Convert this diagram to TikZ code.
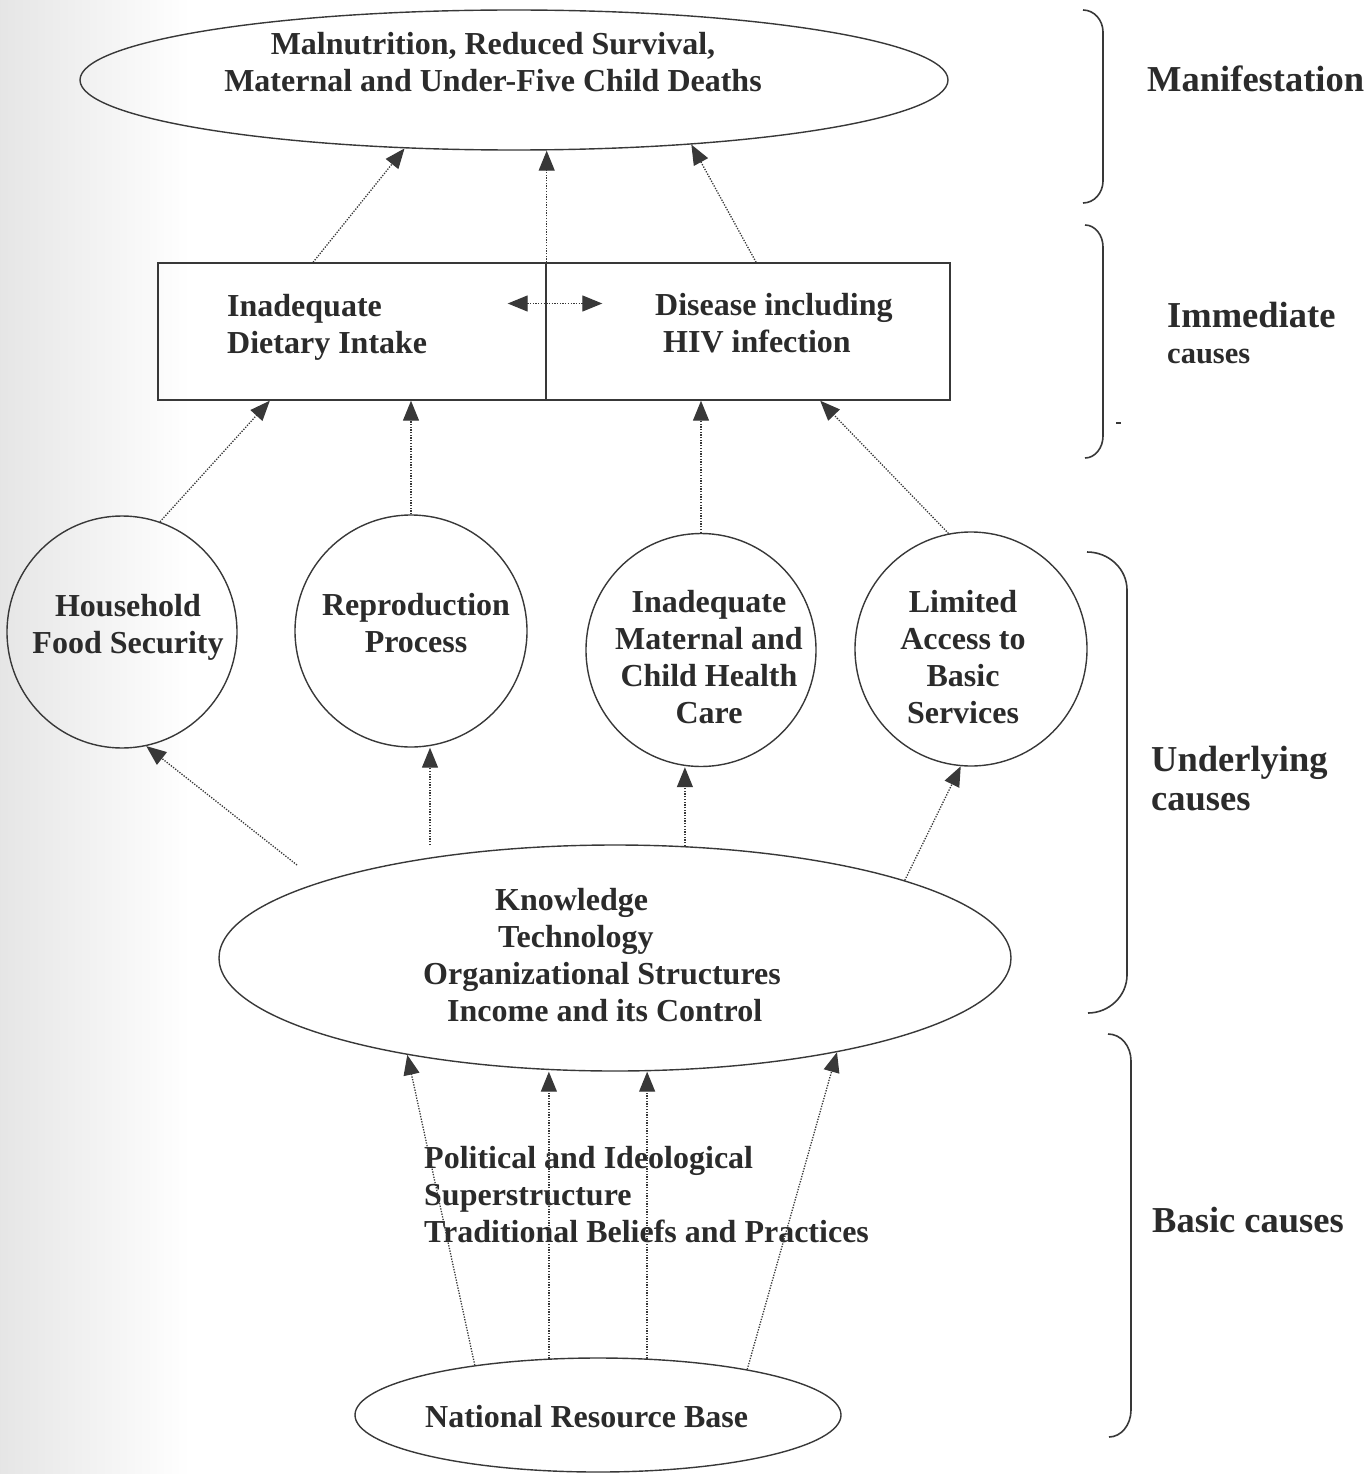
\documentclass[tikz,border=0pt]{standalone}
\usepackage{fontspec}
\setmainfont{Liberation Serif}
\usetikzlibrary{shapes.geometric,arrows.meta,calc}
\definecolor{ink}{gray}{0.17}
\definecolor{lineink}{gray}{0.22}
\begin{document}
\begin{tikzpicture}[x=1pt,y=-1pt,
  shp/.style={draw=lineink,line width=1.4pt,inner sep=0pt},
  oval/.style={shp,ellipse},
  box/.style={shp,rectangle},
  txt/.style={text=ink,font=\fontsize{32}{37}\selectfont\bfseries,inner sep=0pt,anchor=base west,align=left},
  ctxt/.style={txt,anchor=base,align=center},
  lbl/.style={text=ink,font=\fontsize{36.5}{40}\selectfont\bfseries,inner sep=0pt,anchor=base west},
  smalllbl/.style={text=ink,font=\fontsize{30.5}{34}\selectfont\bfseries,inner sep=0pt,anchor=base west},
  arr/.style={draw=lineink,line width=1.3pt,dash pattern=on 1.3pt off 1.4pt,-{Triangle[length=20pt,width=16pt]}},
  darr/.style={arr,{Triangle[length=20pt,width=16pt]}-{Triangle[length=20pt,width=16pt]}},
  brk/.style={draw=lineink,line width=1.6pt}
]
\useasboundingbox (0,0) rectangle (1370,1474);
\shade[left color=black!10, right color=white] (0,0) rectangle (190,1474);

% shapes
\node[oval,minimum width=868pt,minimum height=140pt] (t) at (514,80) {};
\node[box,minimum width=388pt,minimum height=137pt] (diet) at (352,331.5) {};
\node[box,minimum width=404pt,minimum height=137pt] (dis) at (748,331.5) {};
\node[oval,minimum width=230pt,minimum height=232pt] (c1) at (122,632) {};
\node[oval,minimum width=232pt,minimum height=232pt] (c2) at (411,631) {};
\node[oval,minimum width=230pt,minimum height=233pt] (c3) at (701,650) {};
\node[oval,minimum width=232pt,minimum height=234pt] (c4) at (971,649) {};
\node[oval,minimum width=792pt,minimum height=226pt] (m) at (615,958) {};
\node[oval,minimum width=486pt,minimum height=114pt] (b) at (598,1415) {};

% texts (anchor = baseline of last line)
\node[ctxt] (ttxt) at (493,92) {Malnutrition, Reduced Survival,\\Maternal and Under-Five Child Deaths};
\node[txt] (diettxt) at (227,353) {Inadequate\\Dietary Intake};
\node[txt] (distxt) at (655,352) {Disease including\\\hspace*{8pt}HIV infection};
\node[ctxt] (c1txt) at (128,653) {Household\\Food Security};
\node[ctxt] (c2txt) at (416,652) {Reproduction\\Process};
\node[ctxt] (c3txt) at (709,723) {Inadequate\\Maternal and\\Child Health\\Care};
\node[ctxt] (c4txt) at (963,723) {Limited\\Access to\\Basic\\Services};
\node[txt] (mtxt) at (423,1021) {\hspace*{72pt}Knowledge\\\hspace*{75pt}Technology\\Organizational Structures\\\hspace*{24pt}Income and its Control};
\node[txt] (ptxt) at (424,1242) {Political and Ideological\\Superstructure\\Traditional Beliefs and Practices};
\node[txt] (btxt) at (425,1427) {National Resource Base};

% labels
\node[lbl] (l1) at (1147,92) {Manifestation};
\node[lbl] (l2) at (1167,327) {Immediate};
\node[smalllbl] (l2b) at (1167,363) {causes};
\node[lbl] (l3) at (1151,771) {Underlying};
\node[lbl] (l3b) at (1151,810) {causes};
\node[lbl] (l4) at (1152,1232) {Basic causes};

% connectors: immediate -> manifestation
\draw[arr] ($(diet.north west)!0.4!(diet.north east)$) -- (t.212);
\draw[arr] (diet.north east) -- (diet.north east |- t.south);
\draw[arr] ($(dis.north west)!0.52!(dis.north east)$) -- (t.340);
\draw[darr] ($(diet.east)+(-39,-28)$) -- ($(dis.west)+(57,-28)$);

% underlying -> immediate
\draw[arr] (c1.71) -- ($(diet.south west)!0.289!(diet.south east)$);
\draw[arr] (c2.north) -- (c2.north |- diet.south);
\draw[arr] (c3.north) -- (c3.north |- dis.south);
\draw[arr] (c4.101) -- ($(dis.south west)!0.678!(dis.south east)$);

% knowledge -> underlying
\coordinate (m1) at (297,865);
\coordinate (m2) at (430,845);
\draw[arr] (m1) -- (c1.282);
\draw[arr] (m2) -- (m2 |- c2.south);
\draw[arr] (m.58.6) -- (m.58.6 |- c3.south);
\draw[arr] (m.15) -- (c4.265);

% national resource base -> knowledge
\draw[arr] (b.158.6) -- (m.205.7);
\draw[arr] (b.131.9) -- (b.131.9 |- m.south);
\draw[arr] (b.49.3) -- (b.49.3 |- m.south);
\draw[arr] (b.17.2) -- (m.337.3);

% brackets
\draw[brk] (1083,10) .. controls (1094,10) and (1103,20) .. (1103,32) -- (1103,181) .. controls (1103,193) and (1094,203) .. (1083,203);
\draw[brk] (1085,225) .. controls (1095,225) and (1103,235) .. (1103,247) -- (1103,436) .. controls (1103,448) and (1095,458) .. (1085,458);
\draw[brk] (1087,552) .. controls (1109,552) and (1127,569) .. (1127,590) -- (1127,975) .. controls (1127,996) and (1109,1013) .. (1088,1013);
\draw[brk] (1108,1034) .. controls (1121,1034) and (1131,1046) .. (1131,1061) -- (1131,1410) .. controls (1131,1425) and (1121,1437) .. (1109,1437);
\draw[lineink,line width=2pt] (1116,423) -- (1121,423);
\end{tikzpicture}
\end{document}
